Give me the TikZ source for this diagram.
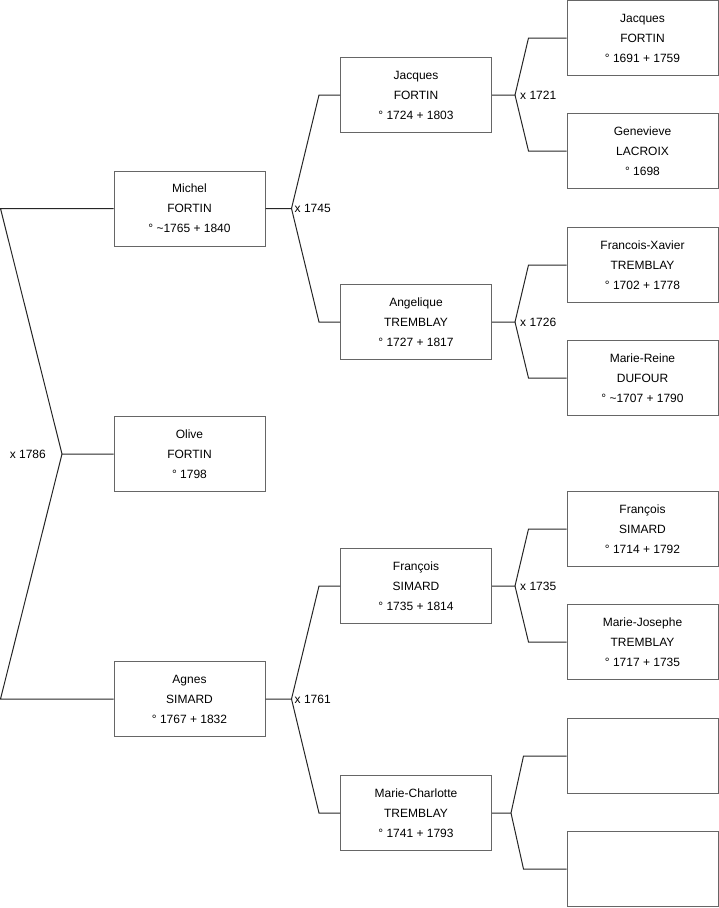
\documentclass[tikz,border=0pt]{standalone}
\usepackage{fontspec}
\setmainfont{Liberation Sans}

\begin{document}
\begin{tikzpicture}[x=1pt,y=-1pt,
	person/.style={draw=black!60, line width=1pt, minimum width=151pt, minimum height=75pt,
		inner sep=0pt, align=center, font=\fontsize{12}{20}\selectfont},
	link/.style={draw=black!85, line width=1pt},
	year/.style={inner sep=0pt, font=\fontsize{12}{14}\selectfont}]
	\useasboundingbox (0,0) rectangle (719,908);
	% generation 1
	\node [person] (michel) at (189.5,208.5) {Michel\\FORTIN\\° \textasciitilde1765 + 1840};
	\node [person] (olive) at (189.5,454) {Olive\\FORTIN\\° 1798};
	\node [person] (agnes) at (189.5,699) {Agnes\\SIMARD\\° 1767 + 1832};
	% generation 2
	\node [person] (jacquesB) at (416,95) {Jacques\\FORTIN\\° 1724 + 1803};
	\node [person] (angelique) at (416,322) {Angelique\\TREMBLAY\\° 1727 + 1817};
	\node [person] (francoisB) at (416,586) {François\\SIMARD\\° 1735 + 1814};
	\node [person] (charlotte) at (416,813) {Marie-Charlotte\\TREMBLAY\\° 1741 + 1793};
	% generation 3
	\node [person] (jacquesA) at (642.5,38) {Jacques\\FORTIN\\° 1691 + 1759};
	\node [person] (genevieve) at (642.5,151) {Genevieve\\LACROIX\\° 1698};
	\node [person] (xavier) at (642.5,265) {Francois-Xavier\\TREMBLAY\\° 1702 + 1778};
	\node [person] (reine) at (642.5,378) {Marie-Reine\\DUFOUR\\° \textasciitilde1707 + 1790};
	\node [person] (francoisA) at (642.5,529) {François\\SIMARD\\° 1714 + 1792};
	\node [person] (josephe) at (642.5,642) {Marie-Josephe\\TREMBLAY\\° 1717 + 1735};
	\node [person] (blankA) at (642.5,756) {};
	\node [person] (blankB) at (642.5,869) {};

	% marriages
	\coordinate (j1786) at (62,454);
	\draw [link] (olive.west) -- (j1786) -- ([xshift=-113pt]michel.west) -- (michel.west);
	\draw [link] (j1786) -- ([xshift=-113pt]agnes.west) -- (agnes.west);
	\node [year, anchor=east] (m1786) at ([xshift=-16pt]j1786) {x 1786};

	\coordinate (j1745) at ([xshift=26pt]michel.east);
	\draw [link] (michel.east) -- (j1745) -- ([xshift=-21pt]jacquesB.west) -- (jacquesB.west);
	\draw [link] (j1745) -- ([xshift=-21pt]angelique.west) -- (angelique.west);
	\node [year, anchor=west] (m1745) at ([xshift=3pt]j1745) {x 1745};

	\coordinate (j1761) at ([xshift=26pt]agnes.east);
	\draw [link] (agnes.east) -- (j1761) -- ([xshift=-21pt]francoisB.west) -- (francoisB.west);
	\draw [link] (j1761) -- ([xshift=-21pt]charlotte.west) -- (charlotte.west);
	\node [year, anchor=west] (m1761) at ([xshift=3pt]j1761) {x 1761};

	\coordinate (j1721) at ([xshift=23pt]jacquesB.east);
	\draw [link] (jacquesB.east) -- (j1721) -- ([xshift=-38pt]jacquesA.west) -- (jacquesA.west);
	\draw [link] (j1721) -- ([xshift=-38pt]genevieve.west) -- (genevieve.west);
	\node [year, anchor=west] (m1721) at ([xshift=5pt]j1721) {x 1721};

	\coordinate (j1726) at ([xshift=23pt]angelique.east);
	\draw [link] (angelique.east) -- (j1726) -- ([xshift=-38pt]xavier.west) -- (xavier.west);
	\draw [link] (j1726) -- ([xshift=-38pt]reine.west) -- (reine.west);
	\node [year, anchor=west] (m1726) at ([xshift=5pt]j1726) {x 1726};

	\coordinate (j1735) at ([xshift=23pt]francoisB.east);
	\draw [link] (francoisB.east) -- (j1735) -- ([xshift=-38pt]francoisA.west) -- (francoisA.west);
	\draw [link] (j1735) -- ([xshift=-38pt]josephe.west) -- (josephe.west);
	\node [year, anchor=west] (m1735) at ([xshift=5pt]j1735) {x 1735};

	\coordinate (jblank) at ([xshift=19pt]charlotte.east);
	\draw [link] (charlotte.east) -- (jblank) -- ([xshift=-43pt]blankA.west) -- (blankA.west);
	\draw [link] (jblank) -- ([xshift=-43pt]blankB.west) -- (blankB.west);
\end{tikzpicture}
\end{document}
